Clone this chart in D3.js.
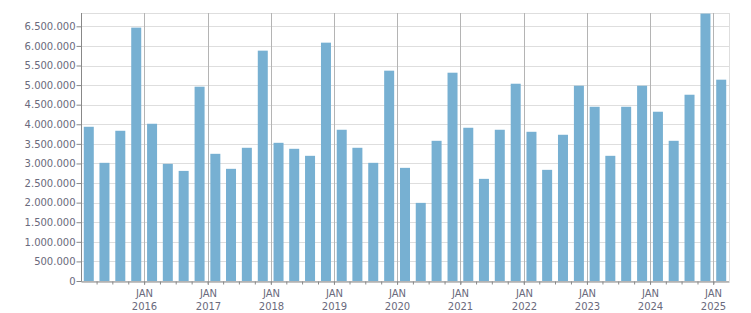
<!DOCTYPE html>
<html>
<head>
<meta charset="utf-8">
<script src="https://cdn.jsdelivr.net/npm/d3@7"></script>
<style>
  body { margin: 0; background: #fff; }
  svg text { font-family: "DejaVu Sans", Verdana, sans-serif; font-size: 10px; fill: #6a6a7c; }
</style>
</head>
<body>
<svg width="751" height="313"></svg>
<script>
// quarterly values, 2015 Q1 .. 2025 Q1
var quarters = [];
for (var yr = 2015; yr <= 2025; yr++) {
  for (var q = 1; q <= 4; q++) quarters.push(yr + "-Q" + q);
}
quarters = quarters.slice(0, 41);

var values = [
  3936000, 3016000, 3834000, 6467000,
  4013000, 2990000, 2810000, 4959000,
  3246000, 2863000, 3400000, 5879000,
  3527000, 3374000, 3195000, 6083000,
  3860000, 3400000, 3016000, 5368000,
  2888000, 1994000, 3578000, 5316000,
  3911000, 2607000, 3860000, 5035000,
  3808000, 2837000, 3732000, 4984000,
  4447000, 3195000, 4447000, 4984000,
  4320000, 3578000, 4754000, 6825000,
  5138000
];

var yTicks = [0, 500000, 1000000, 1500000, 2000000, 2500000, 3000000,
              3500000, 4000000, 4500000, 5000000, 5500000, 6000000, 6500000];
var xYears = [2016, 2017, 2018, 2019, 2020, 2021, 2022, 2023, 2024, 2025];

var svg = d3.select("svg");
var plotLeft = 81, plotRight = 729, plotTop = 13, plotBottom = 281;

var locale = d3.formatLocale({ decimal: ",", thousands: ".", grouping: [3], currency: ["", ""] });
var fmt = locale.format(",d");

function qStart(s) {
  var p = s.split("-Q");
  return new Date(+p[0], (+p[1] - 1) * 3, 1);
}
function qEnd(s) {
  var p = s.split("-Q");
  return new Date(+p[0], (+p[1]) * 3, 1);
}

var x = d3.scaleTime()
  .domain([qStart(quarters[0]), qEnd(quarters[quarters.length - 1])])
  .range([plotLeft, plotRight]);
var y = d3.scaleLinear().domain([0, 6840000]).range([plotBottom, plotTop]);

function yearX(d) { return Math.round(x(new Date(d, 0, 1))) + 0.5; }

// horizontal grid
svg.append("g").selectAll("line")
  .data(yTicks.concat([6840000]))
  .enter().append("line")
    .attr("x1", plotLeft).attr("x2", plotRight)
    .attr("y1", function(d) { return Math.round(y(d)) + 0.5; })
    .attr("y2", function(d) { return Math.round(y(d)) + 0.5; })
    .attr("stroke", "#dedede");

// right border
svg.append("line")
  .attr("x1", plotRight + 0.5).attr("x2", plotRight + 0.5)
  .attr("y1", plotTop).attr("y2", plotBottom)
  .attr("stroke", "#dedede");

// year gridlines
svg.append("g").selectAll("line")
  .data(xYears)
  .enter().append("line")
    .attr("x1", yearX).attr("x2", yearX)
    .attr("y1", plotTop).attr("y2", plotBottom + 4)
    .attr("stroke", "#b4b4b4");

// bars
svg.append("g").selectAll("rect")
  .data(quarters)
  .enter().append("rect")
    .attr("x", function(d) { return (x(qStart(d)) + x(qEnd(d))) / 2 - 5; })
    .attr("width", 10)
    .attr("y", function(d, i) { return y(values[i]); })
    .attr("height", function(d, i) { return plotBottom - y(values[i]); })
    .attr("fill", "#77b0d2");

// y axis
var yAxis = svg.append("g")
  .attr("transform", "translate(" + (plotLeft + 0.5) + ",0)")
  .call(d3.axisLeft(y).tickValues(yTicks).tickFormat(fmt).tickSize(5).tickSizeOuter(0));
yAxis.select(".domain").attr("stroke", "#888")
  .attr("d", "M0," + plotTop + "V" + (plotBottom + 0.5));
yAxis.selectAll(".tick line").attr("stroke", "#888");
yAxis.selectAll(".tick text").attr("x", -6)
  .style("font-family", "DejaVu Sans").style("font-size", "10px").attr("fill", "#6a6a7c");

// x axis (quarter ticks)
var qTicks = quarters.slice(1).map(qStart);
var xAxis = svg.append("g")
  .attr("transform", "translate(0," + (plotBottom + 0.5) + ")")
  .call(d3.axisBottom(x).tickValues(qTicks).tickFormat("").tickSize(3).tickSizeOuter(0));
xAxis.select(".domain").attr("stroke", "#888");
xAxis.selectAll(".tick line").attr("stroke", "#888");

// year labels
var lab = svg.append("g").selectAll("text")
  .data(xYears)
  .enter().append("text")
    .attr("text-anchor", "middle")
    .attr("x", yearX);
lab.append("tspan").attr("x", yearX).attr("y", 297).text("JAN");
lab.append("tspan").attr("x", yearX).attr("y", 310).text(function(d) { return d; });
</script>
</body>
</html>
